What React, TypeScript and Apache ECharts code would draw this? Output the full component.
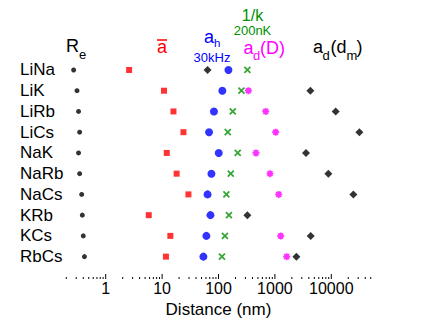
import React, { useEffect, useRef } from "react";
import * as echarts from "echarts";

const categories = ["LiNa", "LiK", "LiRb", "LiCs", "NaK", "NaRb", "NaCs", "KRb", "KCs", "RbCs"];
const reValues = [0.27, 0.31, 0.33, 0.345, 0.33, 0.345, 0.375, 0.385, 0.40, 0.42];
const abarValues = [2.6, 10.8, 15.9, 23.9, 12.1, 18.1, 29.3, 5.8, 14.0, 11.7];
const ahValues = [150, 117, 83, 68, 101, 75, 64, 72, 61, 54];
const invKValues = [325, 255, 179, 146, 219, 165, 138, 153, 130, 115];
const adDValues: (number | null)[] = [null, 339, 687, 1033, 462, 819, 1168, null, 1267, 1619];
const adDmValues = [64, 4260, 11970, 31500, 3560, 8880, 24600, 325, 4310, 2405];
const tickValues = [
  0.2, 0.3, 0.4, 0.5, 0.6, 0.7, 0.8, 0.9,
  1, 2, 3, 4, 5, 6, 7, 8, 9,
  10, 20, 30, 40, 50, 60, 70, 80, 90,
  100, 200, 300, 400, 500, 600, 700, 800, 900,
  1000, 2000, 3000, 4000, 5000, 6000, 7000, 8000, 9000,
  10000, 20000, 30000, 40000, 50000,
];
const majorLabels = [1, 10, 100, 1000, 10000];

const FONT = "'Liberation Sans', Arial, Helvetica, sans-serif";
const GREEN = "#008f00";
const MAGENTA = "#ff00ff";

function toData(vals: (number | null)[]) {
  const out: any[] = [];
  vals.forEach((v, i) => {
    if (v != null) out.push([v, categories[i]]);
  });
  return out;
}

function txt(text: string, x: number, baseline: number, size: number, color: string, align = "left") {
  return {
    type: "text",
    x,
    y: baseline - size * 0.33,
    silent: true,
    style: {
      text,
      fill: color,
      font: `${size}px ${FONT}`,
      lineHeight: size * 0.9,
      align,
      verticalAlign: "middle",
    },
  };
}

export default function App() {
  const ref = useRef<HTMLDivElement>(null);
  useEffect(() => {
    if (!ref.current) return;
    const chart = echarts.init(ref.current, null, { renderer: "svg" });
    const option: any = {
      animation: false,
      backgroundColor: "#ffffff",
      textStyle: { fontFamily: FONT },
      grid: { left: 49.3, right: 35.3, top: 59.6, bottom: 60 },
      xAxis: {
        type: "log",
        logBase: 10,
        min: 0.1,
        max: 100000,
        axisLine: { show: false },
        axisTick: { show: false },
        splitLine: { show: false },
        axisLabel: {
          margin: 13,
          fontSize: 16,
          color: "#000",
          fontFamily: FONT,
          formatter: (v: number) => {
            const m = majorLabels.find((t) => Math.abs(v - t) / t < 1e-6);
            return m != null ? String(m) : "";
          },
        },
        name: "Distance (nm)",
        nameLocation: "middle",
        nameGap: 27,
        nameTextStyle: { fontSize: 17, color: "#000", fontFamily: FONT },
      },
      yAxis: {
        type: "category",
        data: categories,
        inverse: true,
        axisLine: { show: false },
        axisTick: { show: false },
        splitLine: { show: false },
        axisLabel: {
          interval: 0,
          align: "left",
          margin: 29.3,
          fontSize: 17,
          color: "#000",
          fontFamily: FONT,
        },
      },
      series: [
        {
          name: "ticks",
          type: "custom",
          silent: true,
          clip: false,
          data: tickValues.map((v) => [v, 0]),
          encode: { x: 0, y: 1 },
          renderItem: (params: any, api: any) => {
            const v = api.value(0);
            const x = api.coord([v, 0])[0];
            const cs = params.coordSys;
            const yb = cs.y + cs.height + 12;
            const lg = Math.log10(v);
            const major = Math.abs(lg - Math.round(lg)) < 1e-6;
            return {
              type: "line",
              shape: { x1: x, y1: yb, x2: x, y2: yb - (major ? 5 : 2) },
              style: { stroke: "#000", lineWidth: 1 },
            };
          },
        },
        {
          name: "Re",
          type: "scatter",
          symbol: "circle",
          symbolSize: 5,
          itemStyle: { color: "#000" },
          data: toData(reValues),
        },
        {
          name: "abar",
          type: "scatter",
          symbol: "rect",
          symbolSize: 6,
          itemStyle: { color: "#ff0000" },
          data: toData(abarValues),
        },
        {
          name: "ah",
          type: "scatter",
          symbol: "circle",
          symbolSize: 8,
          itemStyle: { color: "#0000ff" },
          data: toData(ahValues),
        },
        {
          name: "1/k",
          type: "scatter",
          symbol: "path://M0,0L10,10M10,0L0,10",
          symbolSize: 6,
          itemStyle: { color: "none", borderColor: GREEN, borderWidth: 1.7 },
          data: toData(invKValues),
        },
        {
          name: "adD",
          type: "scatter",
          symbol: "path://M5,0L5,10M0,5L10,5M1.5,1.5L8.5,8.5M8.5,1.5L1.5,8.5",
          symbolSize: 7,
          itemStyle: { color: "none", borderColor: MAGENTA, borderWidth: 1.8 },
          data: toData(adDValues),
        },
        {
          name: "adDm",
          type: "scatter",
          symbol: "diamond",
          symbolSize: 8,
          itemStyle: { color: "#000" },
          data: toData(adDmValues),
        },
      ],
      graphic: [
        txt("R", 66, 52.3, 18, "#000"),
        txt("e", 79, 58.5, 13, "#000"),
        txt("a", 157, 53, 18, "#ff0000"),
        {
          type: "line",
          silent: true,
          shape: { x1: 157, y1: 40, x2: 167, y2: 40 },
          style: { stroke: "#ff0000", lineWidth: 1.5 },
        },
        txt("a", 204, 42.7, 18, "#0000ff"),
        txt("h", 214, 47, 11.5, "#0000ff"),
        txt("30kHz", 212, 61.5, 13, "#0000ff", "center"),
        txt("1/k", 252.5, 20.8, 16, GREEN, "center"),
        txt("200nK", 252.5, 35, 13, GREEN, "center"),
        txt("a", 243.5, 53.5, 18, MAGENTA),
        txt("d", 253, 59.5, 13, MAGENTA),
        txt("(D)", 260, 53.5, 18, MAGENTA),
        txt("a", 313, 53, 18, "#000"),
        txt("d", 322.5, 59.5, 13, "#000"),
        txt("(d", 330.5, 53, 18, "#000"),
        txt("m", 346.5, 59.5, 13, "#000"),
        txt(")", 356.5, 53, 18, "#000"),
      ],
    };
    chart.setOption(option);
    return () => chart.dispose();
  }, []);
  return (
    <div
      ref={ref}
      style={{ position: "fixed", left: 0, top: 0, width: 423, height: 327, background: "#fff" }}
    />
  );
}
